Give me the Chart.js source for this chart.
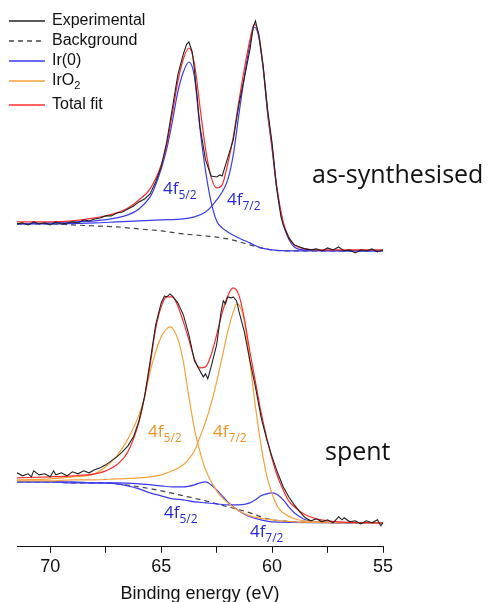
<!DOCTYPE html>
<html>
<head>
<meta charset="utf-8">
<title>Ir 4f XPS</title>
<script src="https://cdn.jsdelivr.net/npm/chart.js@4/dist/chart.umd.min.js"></script>
<style>
  html, body { margin: 0; padding: 0; background: #fff; }
  #xps { display: block; }
</style>
</head>
<body>
<canvas id="xps" width="488" height="602"></canvas>
<script>
// Ir 4f spectra, intensity in arb. units (upper trace already offset)

// --- as-synthesised ---
const asExpEV = [71.5, 71.25, 71, 70.75, 70.5, 70.25, 70, 69.75, 69.5, 69.25, 69, 68.75, 68.5, 68.25, 68, 67.75, 67.5, 67.25, 67, 66.75, 66.5, 66.25, 66, 65.75, 65.5, 65.25, 65, 64.75, 64.5, 64.25, 64, 63.85, 63.75, 63.6, 63.5, 63.25, 63, 62.75, 62.5, 62.35, 62.25, 62, 61.75, 61.5, 61.25, 61, 60.85, 60.75, 60.6, 60.4, 60.2, 60, 59.8, 59.6, 59.5, 59.25, 59, 58.75, 58.5, 58.25, 58, 57.75, 57.5, 57.25, 57, 56.75, 56.5, 56.25, 56, 55.75, 55.5, 55.25, 55];
const asExpInt = [323, 324, 322, 325, 323, 324, 322, 325, 323, 324, 325, 324, 327, 326, 328, 329, 331, 331, 334, 335, 338, 341, 345, 348, 353, 365, 380, 405, 438, 472, 493, 503, 505, 495, 477, 420, 387, 371, 370, 372, 371, 389, 407, 442, 469, 497, 520, 526, 512, 480, 437, 404, 360, 330, 322, 309, 302, 300, 298, 297, 298, 296, 299, 297, 300, 296, 297, 294, 297, 296, 298, 295, 297];

const asFitEV = [71.5, 70, 69, 68, 67, 66.5, 66, 65.5, 65, 64.75, 64.5, 64.25, 64, 63.75, 63.5, 63.25, 63, 62.75, 62.5, 62.25, 62, 61.75, 61.5, 61.25, 61, 60.8, 60.6, 60.4, 60.2, 60, 59.8, 59.5, 59.25, 59, 58.5, 58, 57, 55];
const asFitInt = [325, 325, 326, 329, 334, 339, 347, 358, 382, 402, 433, 465, 488, 499, 483, 440, 398, 370, 359, 362, 383, 410, 445, 478, 507, 523, 512, 480, 435, 400, 362, 325, 310, 302, 298, 297, 297, 297];

const asIr52EV = [71.5, 70, 69, 68, 67, 66.5, 66, 65.5, 65.25, 65, 64.75, 64.5, 64.25, 64, 63.75, 63.5, 63.25, 63, 62.75, 62.5, 62.25, 62, 61.5, 61, 60.5, 60, 59, 55];
const asIr52Int = [323, 324, 325, 326, 329, 332, 338, 350, 362, 378, 398, 425, 455, 475, 485, 470, 418, 376, 345, 326, 319, 315, 309, 304, 299, 297, 296, 296];

const asIr72EV = [71.5, 70, 68, 67, 66, 65, 64, 63.5, 63, 62.75, 62.5, 62.25, 62, 61.75, 61.5, 61.25, 61, 60.8, 60.6, 60.4, 60.2, 60, 59.8, 59.5, 59.25, 59, 58.5, 55];
const asIr72Int = [323, 323, 324, 325, 326, 327, 328, 330, 335, 340, 347, 355, 367, 392, 432, 470, 503, 520, 510, 478, 433, 398, 360, 323, 308, 300, 297, 296];

const asBgEV = [71.5, 70, 69, 68, 67, 66, 65, 64, 63, 62, 61, 60.5, 60, 59, 55];
const asBgInt = [323, 323, 322, 321, 320, 318, 316, 313, 311, 308, 302, 299, 297, 296, 296];

// --- spent ---
const spExpEV = [71.5, 71.25, 71, 70.85, 70.75, 70.5, 70.25, 70, 69.85, 69.75, 69.5, 69.25, 69, 68.75, 68.5, 68.25, 68, 67.75, 67.5, 67.25, 67, 66.75, 66.5, 66.25, 66, 65.75, 65.5, 65.25, 65, 64.85, 64.75, 64.6, 64.5, 64.25, 64, 63.75, 63.5, 63.25, 63.1, 63, 62.9, 62.75, 62.5, 62.3, 62.2, 62.1, 62, 61.85, 61.75, 61.6, 61.5, 61.25, 61, 60.75, 60.5, 60.25, 60, 59.75, 59.5, 59.25, 59, 58.75, 58.5, 58.25, 58, 57.75, 57.5, 57.25, 57, 56.85, 56.75, 56.5, 56.25, 56, 55.75, 55.5, 55.25, 55.1, 55];
const spExpInt = [74, 71, 73, 70, 76, 72, 73, 70, 76, 72, 74, 71, 75, 73, 76, 74, 77, 79, 82, 86, 90, 95, 101, 110, 126, 150, 185, 222, 244, 251, 250, 253, 251, 244, 232, 212, 186, 176, 170, 173, 168, 180, 202, 235, 246, 243, 250, 249, 250, 246, 236, 215, 186, 160, 130, 108, 90, 74, 60, 50, 42, 35, 29, 26, 28, 25, 27, 24, 30, 27, 29, 25, 26, 23, 26, 24, 27, 21, 24];

const spFitEV = [71.5, 70, 69, 68, 67.5, 67, 66.5, 66, 65.75, 65.5, 65.25, 65, 64.75, 64.5, 64.25, 64, 63.75, 63.5, 63.25, 63, 62.75, 62.5, 62.25, 62, 61.75, 61.5, 61.25, 61, 60.75, 60.5, 60.25, 60, 59.75, 59.5, 59.25, 59, 58.5, 58, 57, 55];
const spFitInt = [69, 70, 71, 73, 76, 82, 95, 125, 150, 182, 218, 240, 250, 250, 241, 225, 207, 188, 179, 180, 192, 212, 234, 251, 259, 252, 228, 195, 165, 135, 110, 88, 70, 57, 46, 40, 32, 28, 25, 24];

const spOx52EV = [71.5, 70, 69, 68, 67.5, 67, 66.5, 66, 65.75, 65.5, 65.25, 65, 64.75, 64.6, 64.5, 64.25, 64, 63.75, 63.5, 63.25, 63, 62.5, 62, 61.5, 61, 60, 59, 55];
const spOx52Int = [67, 68, 70, 73, 80, 91, 108, 132, 150, 175, 195, 210, 218, 220, 219, 208, 185, 150, 118, 95, 77, 56, 44, 36, 31, 27, 25, 24];

const spOx72EV = [71.5, 70, 69, 68, 67, 66, 65.5, 65, 64.5, 64, 63.75, 63.5, 63.25, 63, 62.75, 62.5, 62.25, 62, 61.75, 61.6, 61.5, 61.25, 61, 60.75, 60.5, 60.25, 60, 59.75, 59.5, 59, 58.5, 58, 55];
const spOx72Int = [66, 66, 67, 67, 68, 69, 70, 72, 76, 82, 88, 96, 110, 125, 143, 165, 190, 215, 235, 243, 242, 226, 185, 140, 102, 72, 53, 40, 34, 28, 26, 25, 24];

const spIr52EV = [71.5, 70, 69, 68, 67, 66, 65, 64.5, 64, 63.5, 63.25, 63, 62.75, 62.5, 62.25, 62, 61.5, 61, 60.5, 60, 55];
const spIr52Int = [65, 65, 65, 64, 64, 63, 61, 60, 60, 62, 64, 65, 62, 57, 51, 45, 36, 30, 27, 25, 24];

const spIr72EV = [71.5, 70, 69, 68, 67, 66.5, 66, 65.5, 65, 64.5, 64, 63.5, 63, 62.5, 62, 61.5, 61, 60.75, 60.5, 60.25, 60, 59.75, 59.5, 59.25, 59, 58.75, 58.5, 58, 55];
const spIr72Int = [65, 65, 64, 64, 63, 61, 58, 54, 51, 48, 47, 45, 44, 43, 42, 42, 44, 47, 51, 53, 54, 52, 47, 40, 34, 30, 27, 25, 24];

const spBgEV = [71.5, 70, 69, 68, 67, 66, 65, 64, 63, 62, 61, 60.5, 60, 59.5, 59, 55];
const spBgInt = [65, 65, 64, 64, 63, 60, 56, 51, 46, 40, 34, 30, 27, 26, 25, 24];

// axis ticks
const xTicks = [70, 65, 60, 55];

const COLORS = {
  exp: '#222222',
  bg: '#444444',
  ir: '#3b3bf2',
  ox: '#f6a23a',
  fit: '#ff2b2b',
  irText: '#2828d4',
  oxText: '#f29224'
};

function pts(ev, ints) {
  return ev.map((x, i) => ({ x: x, y: ints[i] }));
}

function line(ev, ints, color, opts = {}) {
  return Object.assign({
    data: pts(ev, ints),
    borderColor: color,
    borderWidth: 1.2,
    pointRadius: 0,
    fill: false,
    tension: 0.35,
    cubicInterpolationMode: 'monotone'
  }, opts);
}

const expOpts = { tension: 0, cubicInterpolationMode: 'default', borderWidth: 1.1 };
const bgOpts = { borderDash: [5, 4], borderWidth: 1.2 };

const datasets = [
  line(asExpEV, asExpInt, COLORS.exp, Object.assign({ order: 1 }, expOpts)),
  line(asFitEV, asFitInt, COLORS.fit, { order: 2 }),
  line(asIr52EV, asIr52Int, COLORS.ir, { order: 3 }),
  line(asIr72EV, asIr72Int, COLORS.ir, { order: 3 }),
  line(asBgEV, asBgInt, COLORS.bg, Object.assign({ order: 4 }, bgOpts)),

  line(spExpEV, spExpInt, COLORS.exp, Object.assign({ order: 1 }, expOpts)),
  line(spFitEV, spFitInt, COLORS.fit, { order: 2 }),
  line(spOx52EV, spOx52Int, COLORS.ox, { order: 3 }),
  line(spOx72EV, spOx72Int, COLORS.ox, { order: 3 }),
  line(spIr52EV, spIr52Int, COLORS.ir, { order: 3 }),
  line(spIr72EV, spIr72Int, COLORS.ir, { order: 3 }),
  line(spBgEV, spBgInt, COLORS.bg, Object.assign({ order: 4 }, bgOpts))
];

// legend entries (drawn by hand so IrO2 can get its subscript)
const legendItems = [
  { text: 'Experimental', sub: '', color: COLORS.exp, dash: [] },
  { text: 'Background', sub: '', color: COLORS.bg, dash: [5, 4] },
  { text: 'Ir(0)', sub: '', color: COLORS.ir, dash: [] },
  { text: 'IrO', sub: '2', color: COLORS.ox, dash: [] },
  { text: 'Total fit', sub: '', color: COLORS.fit, dash: [] }
];
const legendRows = [21, 41, 61, 81, 105];

// peak labels, anchored in data coordinates (eV, intensity)
const peakLabels = [
  { ev: 64.92, y: 353, main: '4f', sub: '5/2', color: COLORS.irText },
  { ev: 62.03, y: 342, main: '4f', sub: '7/2', color: COLORS.irText },
  { ev: 65.59, y: 110, main: '4f', sub: '5/2', color: COLORS.oxText },
  { ev: 62.66, y: 110, main: '4f', sub: '7/2', color: COLORS.oxText },
  { ev: 64.87, y: 29, main: '4f', sub: '5/2', color: COLORS.irText },
  { ev: 61.0, y: 10, main: '4f', sub: '7/2', color: COLORS.irText }
];

function drawSub(ctx, main, sub, x, y, size, family, color) {
  ctx.fillStyle = color;
  ctx.textAlign = 'left';
  ctx.textBaseline = 'alphabetic';
  ctx.font = size + 'px ' + family;
  ctx.fillText(main, x, y);
  const w = ctx.measureText(main).width;
  if (sub) {
    ctx.font = Math.round(size * 0.68) + 'px ' + family;
    ctx.fillText(sub, x + w, y + size * 0.28);
  }
}

const annotate = {
  id: 'annotate',
  afterDatasetsDraw(chart) {
    const ctx = chart.ctx;
    const xs = chart.scales.x;
    const ys = chart.scales.y;
    ctx.save();

    peakLabels.forEach(l => {
      drawSub(ctx, l.main, l.sub, xs.getPixelForValue(l.ev), ys.getPixelForValue(l.y), 17, '"Open Sans", sans-serif', l.color);
    });

    ctx.fillStyle = '#111';
    ctx.font = '25px "Open Sans", sans-serif';
    ctx.textAlign = 'left';
    ctx.textBaseline = 'alphabetic';
    ctx.fillText('as-synthesised', 312, 183);
    ctx.fillText('spent', 325, 460);

    legendItems.forEach((item, i) => {
      const y = legendRows[i];
      ctx.beginPath();
      ctx.setLineDash(item.dash);
      ctx.strokeStyle = item.color;
      ctx.lineWidth = 1.3;
      ctx.moveTo(9, y);
      ctx.lineTo(45, y);
      ctx.stroke();
      ctx.setLineDash([]);
      ctx.fillStyle = '#111';
      ctx.font = '16px "Liberation Sans", Arial, sans-serif';
      ctx.textBaseline = 'middle';
      ctx.fillText(item.text, 52, y);
      if (item.sub) {
        const w = ctx.measureText(item.text).width;
        ctx.font = '11px "Liberation Sans", Arial, sans-serif';
        ctx.fillText(item.sub, 52 + w, y + 5);
      }
    });
    ctx.restore();
  }
};

new Chart(document.getElementById('xps').getContext('2d'), {
  type: 'line',
  data: { datasets: datasets },
  plugins: [annotate],
  options: {
    responsive: false,
    animation: false,
    layout: { padding: { left: 17, right: 105, top: 0, bottom: -3 } },
    plugins: {
      legend: { display: false },
      tooltip: { enabled: false }
    },
    scales: {
      x: {
        type: 'linear',
        reverse: true,
        min: 55,
        max: 71.5,
        border: { display: true, color: '#111', width: 1 },
        grid: { display: true, drawOnChartArea: false, drawTicks: true, tickLength: 6, color: '#111' },
        ticks: {
          stepSize: 2.5,
          includeBounds: false,
          autoSkip: false,
          maxRotation: 0,
          padding: 3,
          color: '#111',
          font: { family: '"Liberation Sans", Arial, sans-serif', size: 18 },
          callback: function(value) {
            return xTicks.includes(value) ? String(value) : '';
          }
        },
        title: {
          display: true,
          text: 'Binding energy (eV)',
          color: '#111',
          font: { family: '"Liberation Sans", Arial, sans-serif', size: 18 },
          padding: { top: 3, bottom: 0 }
        }
      },
      y: {
        display: false,
        min: 0,
        max: 547
      }
    }
  }
});
</script>
</body>
</html>
